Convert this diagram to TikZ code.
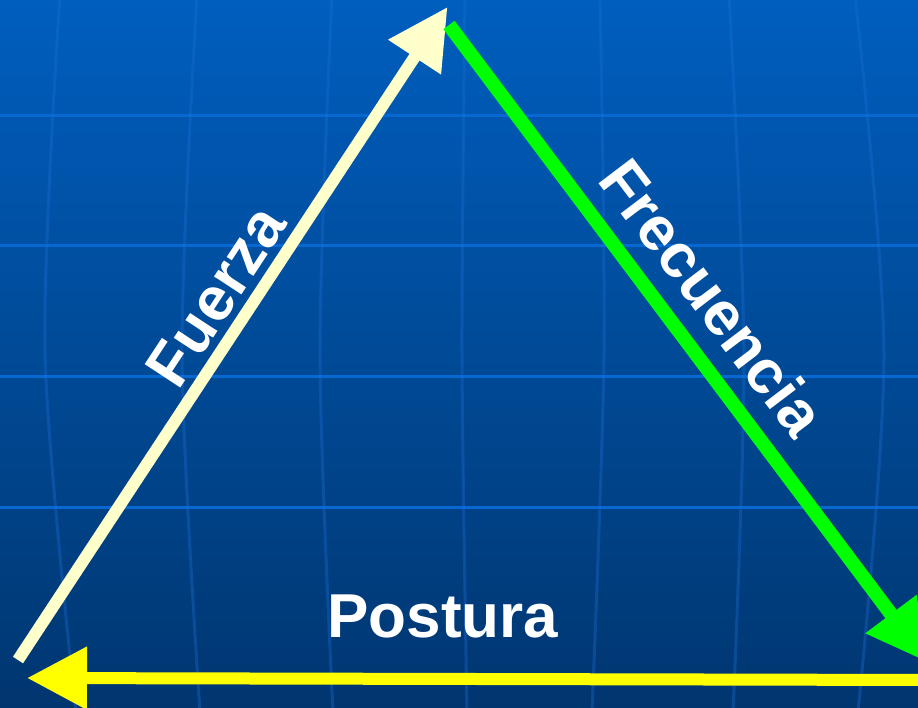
\documentclass[tikz,border=0pt]{standalone}
\usepackage{fontspec}
\setmainfont{Liberation Sans}
\usetikzlibrary{arrows.meta}
\definecolor{bgtop}{RGB}{0,94,190}
\definecolor{bgbot}{RGB}{0,54,112}
\definecolor{gridh}{RGB}{8,104,210}
\definecolor{gridv}{RGB}{30,110,215}
\definecolor{cream}{RGB}{255,255,204}
\definecolor{lime}{RGB}{0,255,0}
\definecolor{yell}{RGB}{255,255,0}
\tikzset{
  hline/.style={draw=gridh, line width=3pt},
  vline/.style={draw=gridv, line width=3pt, opacity=0.35},
  bigarrow/.style={line width=#1, -{Triangle[length=60pt,width=60pt]}},
  lbl/.style={text=white, font=\bfseries\fontsize{62}{70}\selectfont, inner sep=0pt, anchor=base}
}
\begin{document}
\begin{tikzpicture}[x=1pt,y=-1pt]
\useasboundingbox (0,0) rectangle (918,707);
\shade[top color=bgtop, bottom color=bgbot] (0,0) rectangle (918,707);
% grid
\foreach \yy in {115,245,376,507}{\draw[hline] (0,\yy) -- (918,\yy);}
\foreach \a/\b/\c in {60/45/76,197/182/200,332/320/333,465/462/467,600/604/592,729/744/733,855/884/858}{
  \draw[vline] plot[smooth] coordinates {(\a,-5) (\b,353) (\c,712)};}
% endpoints
\coordinate (fs) at (18,660);
\coordinate (ft) at (447.5,7);
\coordinate (gs) at (449,25);
\coordinate (gt) at (927,662);
\coordinate (ys) at (935,680);
\coordinate (yt) at (27,678);
% arrows
\draw[bigarrow=12pt, draw=cream, fill=cream] (fs) -- (ft);
\draw[bigarrow=14pt, draw=lime, fill=lime] (gs) -- (gt);
\draw[bigarrow=12pt, draw=yell, fill=yell] (ys) -- (yt);
% labels
\node[lbl, rotate=56.7] (fuerza) at (233.5,307.5) {Fuerza};
\node[lbl, rotate=-52.8] (frec) at (695,310.5) {Frecuencia};
\node[lbl] (postura) at (443,637) {Postura};
\end{tikzpicture}
\end{document}
